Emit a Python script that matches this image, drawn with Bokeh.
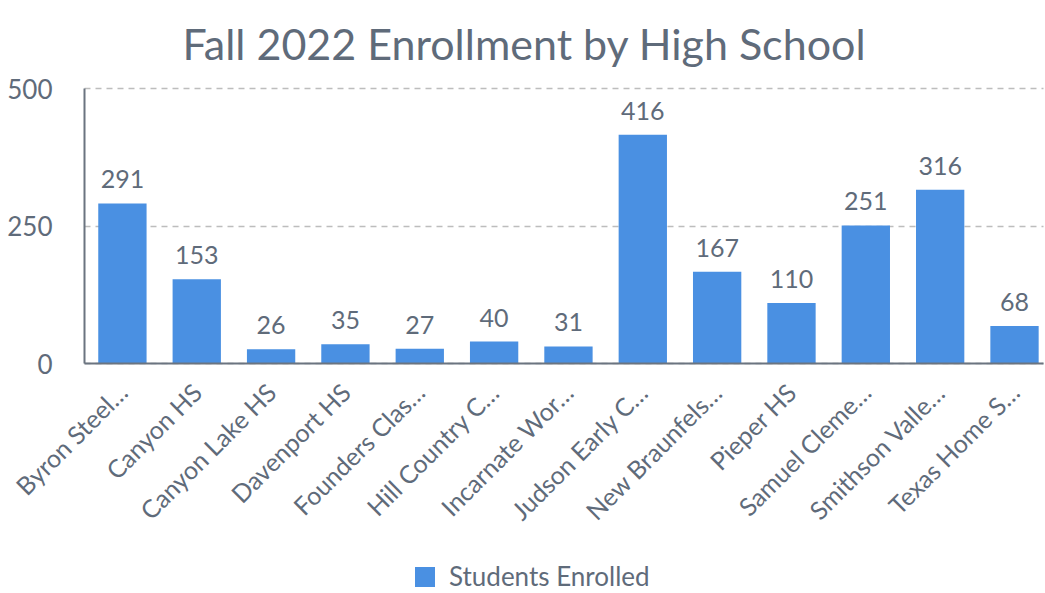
from bokeh.plotting import figure
from bokeh.models import (ColumnDataSource, Range1d, FixedTicker, LabelSet,
                          Label, Legend, LegendItem)
from bokeh.core.properties import value
from bokeh.embed import file_html
from bokeh.resources import INLINE

# ---- data ----
schools = ["Byron Steel…", "Canyon HS", "Canyon Lake HS", "Davenport HS",
           "Founders Clas…", "Hill Country C…", "Incarnate Wor…",
           "Judson Early C…", "New Braunfels…", "Pieper HS", "Samuel Cleme…",
           "Smithson Valle…", "Texas Home S…"]
enrolled = [291, 153, 26, 35, 27, 40, 31, 416, 167, 110, 251, 316, 68]
y_ticks = [0, 250, 500]
series_name = "Students Enrolled"
title_text = "Fall 2022 Enrollment by High School"

TEXT = "#5f6b7a"
BAR = "#4a90e2"
FONT = "Lato"

# ---- layout (pixels) ----
W, H = 1045, 593
AXIS_X_PX = 84          # where the value axis sits
ZERO_Y_PX = 363         # where y = 0 sits
PX_PER_X = 959 / 12.9   # width of one category slot
PX_PER_Y = 275 / 500

n = len(schools)
X_LEFT, X_RIGHT = -0.51, n - 0.61
x_start = X_LEFT - AXIS_X_PX / PX_PER_X
x_end = x_start + W / PX_PER_X
y_end = ZERO_Y_PX / PX_PER_Y
y_start = -(H - ZERO_Y_PX) / PX_PER_Y

def px_x(px):
    return x_start + px / PX_PER_X

def px_y(py):
    return y_end - py / PX_PER_Y

idx = list(range(n))
src = ColumnDataSource(dict(x=idx, top=enrolled,
                            label=[str(v) for v in enrolled]))

p = figure(frame_width=W, frame_height=H, output_backend="svg",
           toolbar_location=None,
           x_range=Range1d(x_start, x_end), y_range=Range1d(y_start, y_end),
           min_border_left=0, min_border_right=0,
           min_border_top=0, min_border_bottom=0)

r = p.vbar(x="x", top="top", width=0.65, source=src, color=BAR,
           line_color=None)

labels = LabelSet(x="x", y="top", text="label", source=src,
                  text_align="center", text_baseline="bottom", y_offset=15,
                  text_font=value(FONT), text_font_size="25px",
                  text_color=TEXT)
p.add_layout(labels)

p.add_layout(Label(x=px_x(182), y=px_y(43), text=title_text,
                   text_align="left", text_baseline="alphabetic",
                   text_font=FONT, text_font_size="43px", text_color=TEXT))

p.outline_line_color = None
p.xgrid.grid_line_color = None
p.ygrid.ticker = FixedTicker(ticks=y_ticks)
p.ygrid.grid_line_color = "#bdbdbd"
p.ygrid.grid_line_dash = "6 5"
p.ygrid.grid_line_width = 1.3
try:
    p.ygrid.cross_bounds = (X_LEFT, X_RIGHT)
except Exception:
    pass

p.yaxis.fixed_location = X_LEFT
p.yaxis.ticker = FixedTicker(ticks=y_ticks)
p.yaxis.bounds = (0, 500)
p.yaxis.major_tick_line_color = None
p.yaxis.minor_tick_line_color = None
p.yaxis.axis_line_color = "#6b7480"
p.yaxis.axis_line_width = 2
p.yaxis.major_label_text_font = FONT
p.yaxis.major_label_text_font_size = "26px"
p.yaxis.major_label_text_color = TEXT
p.yaxis.major_label_standoff = 26

p.xaxis.fixed_location = 0
p.xaxis.ticker = FixedTicker(ticks=idx)
p.xaxis.bounds = (X_LEFT, X_RIGHT)
p.xaxis.major_label_overrides = {i: s for i, s in zip(idx, schools)}
p.xaxis.major_label_orientation = 0.785398
p.xaxis.major_tick_line_color = None
p.xaxis.minor_tick_line_color = None
p.xaxis.axis_line_color = "#6b7480"
p.xaxis.axis_line_width = 2
p.xaxis.major_label_text_font = FONT
p.xaxis.major_label_text_font_size = "25px"
p.xaxis.major_label_text_color = TEXT
p.xaxis.major_label_standoff = 18

legend = Legend(items=[LegendItem(label=series_name, renderers=[r])],
                orientation="horizontal", location=(412, 1),
                label_text_font=FONT, label_text_font_size="26px",
                label_text_color=TEXT, glyph_width=25, glyph_height=25,
                border_line_color=None, background_fill_alpha=0,
                margin=0, padding=0, label_standoff=12)
p.add_layout(legend, "center")

open("out.html", "w").write(file_html(p, INLINE))
